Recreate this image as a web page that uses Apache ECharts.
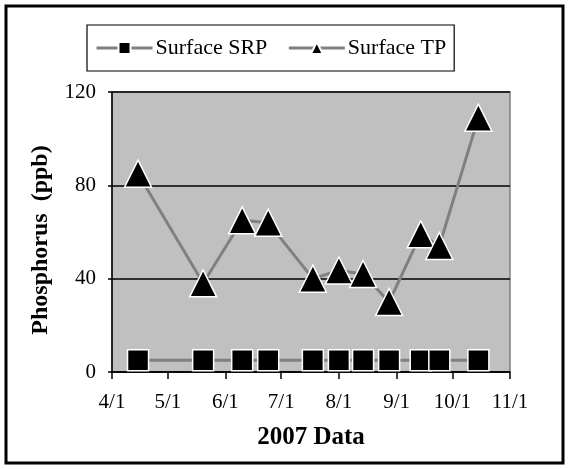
<!DOCTYPE html>
<html>
<head>
<meta charset="utf-8">
<script src="https://cdn.jsdelivr.net/npm/echarts@6/dist/echarts.min.js"></script>
<style>
  html, body { margin: 0; padding: 0; background: #fff; }
  #chart { width: 569px; height: 469px; }
</style>
</head>
<body>
<div id="chart"></div>
<script>
// sampling dates (2007) and phosphorus readings, ppb
const sampleDates = ['2007-04-15', '2007-05-20', '2007-06-10', '2007-06-24', '2007-07-18',
  '2007-08-01', '2007-08-14', '2007-08-28', '2007-09-14', '2007-09-24', '2007-10-15'];
const srpValues = [5, 5, 5, 5, 5, 5, 5, 5, 5, 5, 5];
const tpValues = [85, 38, 65, 64, 40, 43.5, 42, 30, 59, 54, 109];
const xRange = ['2007-04-01', '2007-11-01'];
const yTicks = [0, 40, 80, 120];

const serif = "'Liberation Serif', 'Times New Roman', serif";

let chartDom = document.getElementById('chart');
let myChart = echarts.init(chartDom);
let option;

const pts = (vals) => sampleDates.map((d, i) => [d, vals[i]]);

option = {
  animation: false,
  textStyle: { fontFamily: serif },
  graphic: [{
    type: 'rect',
    shape: { x: 6, y: 6, width: 557, height: 457 },
    style: { fill: 'none', stroke: '#000', lineWidth: 3 }
  }],
  legend: {
    left: 87,
    top: 25,
    padding: [12, 8, 12, 8],
    itemGap: 20,
    itemWidth: 56,
    itemHeight: 15,
    borderColor: '#000',
    borderWidth: 1.2,
    lineStyle: { color: '#808080', width: 3 },
    textStyle: { fontFamily: serif, fontSize: 22, color: '#000', padding: [0, 0, 0, -2] },
    data: ['Surface SRP', 'Surface TP']
  },
  grid: {
    left: 112, right: 59, top: 92, bottom: 97,
    show: true,
    backgroundColor: '#c0c0c0',
    borderColor: '#808080',
    borderWidth: 1.5
  },
  xAxis: {
    type: 'time',
    min: xRange[0],
    max: xRange[1],
    minInterval: 28 * 86400000,
    maxInterval: 31 * 86400000,
    name: '2007 Data',
    nameLocation: 'middle',
    nameGap: 53,
    nameTextStyle: { fontFamily: serif, fontSize: 25, fontWeight: 'bold', color: '#000' },
    axisLine: { lineStyle: { color: '#000', width: 1.5 } },
    axisTick: { show: true, length: 7, lineStyle: { color: '#000', width: 1.5 } },
    splitLine: { show: false },
    axisLabel: {
      fontFamily: serif, fontSize: 21, color: '#000', margin: 20,
      showMinLabel: true, showMaxLabel: true,
      formatter: function (val) {
        let d = new Date(val);
        return (d.getMonth() + 1) + '/' + d.getDate();
      }
    }
  },
  yAxis: {
    type: 'value',
    min: yTicks[0],
    max: yTicks[yTicks.length - 1],
    interval: 40,
    name: 'Phosphorus  (ppb)',
    nameLocation: 'middle',
    nameGap: 59,
    nameTextStyle: { fontFamily: serif, fontSize: 24, fontWeight: 'bold', color: '#000', padding: [0, 16, 0, 0] },
    axisLine: { show: true, lineStyle: { color: '#000', width: 1.5 } },
    axisTick: { show: true, length: 4, lineStyle: { color: '#000', width: 1.5 } },
    splitLine: { show: true, lineStyle: { color: '#000', width: 1.5 } },
    axisLabel: { fontFamily: serif, fontSize: 21, color: '#000', margin: 16 }
  },
  series: [
    {
      name: 'Surface SRP',
      type: 'line',
      data: pts(srpValues),
      symbol: 'rect',
      symbolSize: 21,
      lineStyle: { color: '#808080', width: 3 },
      itemStyle: { color: '#000', borderColor: '#fff', borderWidth: 1.5 },
      z: 3
    },
    {
      name: 'Surface TP',
      type: 'line',
      data: pts(tpValues),
      symbol: 'triangle',
      symbolSize: 27,
      lineStyle: { color: '#808080', width: 3 },
      itemStyle: { color: '#000', borderColor: '#fff', borderWidth: 1.5 },
      z: 4
    }
  ]
};
myChart.setOption(option, true);
</script>
</body>
</html>
